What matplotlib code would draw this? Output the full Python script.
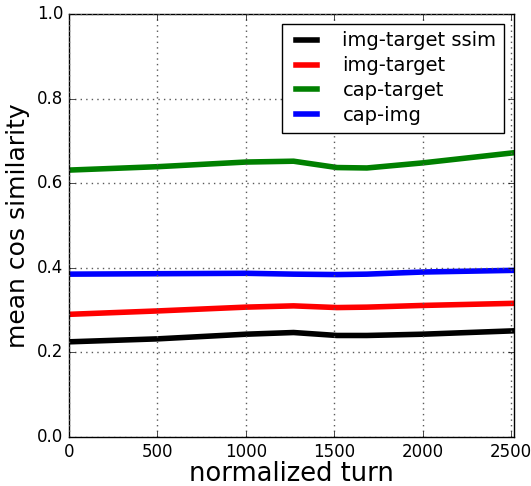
import numpy as np
import matplotlib
matplotlib.use('Agg')
import matplotlib.pyplot as plt

turns = [0, 500, 1000, 1270, 1516, 1685, 2000, 2517]
img_target_ssim = [0.225, 0.232, 0.243, 0.247, 0.240, 0.240, 0.243, 0.251]
img_target = [0.290, 0.298, 0.307, 0.310, 0.306, 0.307, 0.311, 0.316]
cap_target = [0.631, 0.639, 0.650, 0.652, 0.637, 0.636, 0.648, 0.672]
cap_img = [0.385, 0.386, 0.387, 0.385, 0.384, 0.385, 0.390, 0.394]

plt.style.use('classic')
fig = plt.figure(figsize=(5.31, 4.86), dpi=100, facecolor='white')
ax = fig.add_axes([69/531, 49/486, 445/531, 423/486])
ax.plot(turns, img_target_ssim, color='black', lw=4, label='img-target ssim')
ax.plot(turns, img_target, color='red', lw=4, label='img-target')
ax.plot(turns, cap_target, color='green', lw=4, label='cap-target')
ax.plot(turns, cap_img, color='blue', lw=4, label='cap-img')
ax.set_xlim(0, 2517)
ax.set_ylim(0, 1.0)
ax.set_xticks([0, 500, 1000, 1500, 2000, 2500])
ax.set_yticks([0.0, 0.2, 0.4, 0.6, 0.8, 1.0])
ax.tick_params(labelsize=12)
ax.grid(True, color='0.35', linestyle=(0, (1, 3)), lw=1)
ax.set_xlabel('normalized turn', fontsize=18.5, labelpad=0)
ax.set_ylabel('mean cos similarity', fontsize=18)
leg = ax.legend(loc='upper right', fontsize=14, handlelength=1.7,
                handletextpad=1.0, borderaxespad=0.5, labelspacing=0.3)
plt.savefig('out.png', dpi=100, facecolor='white')
